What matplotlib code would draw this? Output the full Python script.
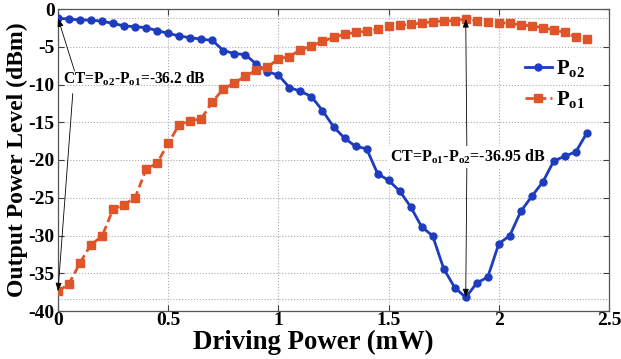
import matplotlib
matplotlib.use("Agg")
import matplotlib.pyplot as plt

plt.rcParams['font.family'] = ['Liberation Serif', 'DejaVu Serif']
plt.rcParams['font.weight'] = 'bold'
plt.rcParams['mathtext.fontset'] = 'custom'
plt.rcParams['mathtext.rm'] = 'Liberation Serif:bold'
plt.rcParams['mathtext.it'] = 'Liberation Serif:italic:bold'
plt.rcParams['mathtext.bf'] = 'Liberation Serif:bold'

drive = [0.00, 0.05, 0.10, 0.15, 0.20, 0.25, 0.30, 0.35, 0.40, 0.45,
         0.50, 0.55, 0.60, 0.65, 0.70, 0.75, 0.80, 0.85, 0.90, 0.95,
         1.00, 1.05, 1.10, 1.15, 1.20, 1.25, 1.30, 1.35, 1.40, 1.45,
         1.50, 1.55, 1.60, 1.65, 1.70, 1.75, 1.80, 1.85, 1.90, 1.95,
         2.00, 2.05, 2.10, 2.15, 2.20, 2.25, 2.30, 2.35, 2.40]

po2 = [-1.23, -1.32, -1.46, -1.46, -1.63, -1.90, -2.25, -2.34, -2.48, -2.87,
       -3.22, -3.58, -3.80, -4.00, -4.15, -5.50, -5.90, -6.05, -7.30, -8.30,
       -8.75, -10.40, -10.90, -11.60, -13.45, -15.60, -17.10, -18.20, -18.50, -21.80,
       -22.70, -24.10, -26.20, -28.85, -30.05, -34.40, -36.90, -38.20, -36.30, -35.50,
       -31.10, -30.00, -26.80, -24.80, -22.90, -20.10, -19.50, -18.90, -16.40]

po1 = [-37.4, -36.4, -33.6, -31.2, -30.1, -26.5, -25.9, -25.0, -21.2, -20.4,
       -17.8, -15.3, -14.8, -14.55, -12.3, -10.6, -9.8, -8.9, -8.1, -7.7,
       -6.6, -6.3, -5.4, -4.9, -4.3, -3.75, -3.35, -3.1, -2.95, -2.7,
       -2.3, -2.15, -2.05, -1.85, -1.68, -1.58, -1.55, -1.32, -1.55, -1.68,
       -1.80, -1.90, -2.10, -2.25, -2.47, -2.78, -3.10, -3.75, -4.00]

x_ticks = [0, 0.5, 1, 1.5, 2, 2.5]
x_ticklabels = ['0', '0.5', '1', '1.5', '2', '2.5']
y_ticks = [0, -5, -10, -15, -20, -25, -30, -35, -40]
y_ticklabels = ['0', '-5', '-10', '-15', '-20', '-25', '-30', '-35', '-40']
ref_levels = [-1.2, -38.4]

ct1_text = r'CT=P$_{\mathrm{o2}}$-P$_{\mathrm{o1}}$=-36.2 dB'
ct2_text = r'CT=P$_{\mathrm{o1}}$-P$_{\mathrm{o2}}$=-36.95 dB'

blue = '#1E3CBE'
orange = '#E0542A'

fig = plt.figure(figsize=(6.21, 3.59), dpi=100)
ax = fig.add_axes([58/621, 1-311/359, (609-58)/621, (311-9)/359])

ax.set_xlim(0, 2.5)
ax.set_ylim(-40, 0)

ax.set_xticks(x_ticks)
ax.set_xticklabels(x_ticklabels)
ax.set_yticks(y_ticks)
ax.set_yticklabels(y_ticklabels)
ax.tick_params(direction='in', top=True, right=True, length=4, width=0.8,
               labelsize=14, colors='#404040', labelcolor='black', pad=1)
ax.tick_params(axis='y', pad=2.5)
for lab in ax.get_xticklabels() + ax.get_yticklabels():
    lab.set_fontweight('bold')

ax.grid(True, linestyle=':', color='#AAAAAA', linewidth=0.8)
for lv in ref_levels:
    ax.axhline(lv, linestyle=':', color='#AAAAAA', linewidth=0.8, zorder=0.5)
for sp in ax.spines.values():
    sp.set_color('#555555')
    sp.set_linewidth(0.9)

ax.plot(drive, po2, '-', color=blue, lw=2.0, marker='o', ms=5,
        label=r'P$_{\mathrm{o2}}$', zorder=3)
ax.plot(drive, po1, '--', color=orange, lw=2.0, marker='s', ms=5.2,
        dashes=(3, 1.5), label=r'P$_{\mathrm{o1}}$', zorder=3)

ax.set_xlabel('Driving Power (mW)', fontsize=19.3, fontweight='bold')
ax.xaxis.set_label_coords(0.464, -0.062)
ax.set_ylabel('Output Power Level (dBm)', fontsize=17, fontweight='bold', labelpad=0)

leg = ax.legend(loc='upper right', bbox_to_anchor=(0.99, 0.90), frameon=False,
                fontsize=15, handlelength=1.3, handletextpad=0.2, labelspacing=0.5)

arrow_kw = dict(arrowstyle='-|>,head_length=0.5,head_width=0.18', color='black',
                lw=0.6, shrinkA=0, shrinkB=0)

# Annotation 1
ax.text(0.022, -9.3, ct1_text, fontsize=11.2, fontweight='bold',
        ha='left', va='center', zorder=4)
ax.annotate('', xy=(drive[0], po2[0]), xytext=(0.075, -8.2), arrowprops=arrow_kw)
ax.annotate('', xy=(drive[0], po1[0]), xytext=(0.067, -11.2), arrowprops=arrow_kw)

# Annotation 2
ax.text(1.505, -19.6, ct2_text, fontsize=11.5, fontweight='bold',
        ha='left', va='center', zorder=4,
        bbox=dict(facecolor='white', edgecolor='none', pad=1))
ax.annotate('', xy=(drive[37], po1[37]), xytext=(1.855, -18.3), arrowprops=arrow_kw)
ax.annotate('', xy=(drive[37], po2[37]), xytext=(1.855, -21.0), arrowprops=arrow_kw)

fig.savefig('out.png', dpi=100)
